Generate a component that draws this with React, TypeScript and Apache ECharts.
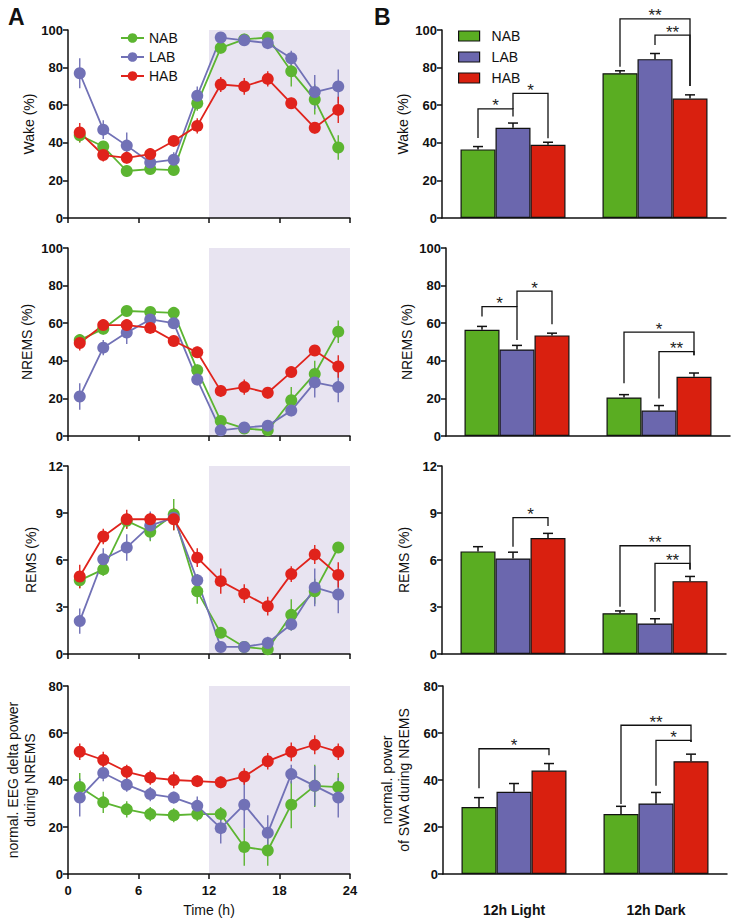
import React, { useEffect, useRef } from 'react';
import * as echarts from 'echarts';

const HOURS = [1, 3, 5, 7, 9, 11, 13, 15, 17, 19, 21, 23];
const GROUPS = ['NAB', 'LAB', 'HAB'];
const PERIODS = ['12h Light', '12h Dark'];

// Wake (%)
const WAKE_NAB = [44, 38, 25, 26, 25.5, 61, 90.5, 95, 96, 78, 63, 37.5];
const WAKE_NAB_ERR = [4, 3, 3, 2, 2, 4, 3, 3, 2, 8, 8, 6.5];
const WAKE_LAB = [77, 47, 38.5, 29.5, 31, 65, 96, 94.5, 93, 85, 67, 70];
const WAKE_LAB_ERR = [8, 5, 7, 3, 4, 5, 1.5, 2, 3, 4, 9, 9];
const WAKE_HAB = [45.5, 33.5, 32, 34, 41, 49, 71, 70, 74, 61, 48, 57.5];
const WAKE_HAB_ERR = [5, 3.5, 3, 3, 2, 4, 4, 4.5, 4, 3, 3, 7];

// NREMS (%)
const NREMS_NAB = [51, 57, 66.5, 66, 65.5, 35, 8, 4, 3, 19, 33, 55.5];
const NREMS_NAB_ERR = [3, 3, 2.5, 2, 2, 3, 2, 2, 1.5, 7, 7, 6];
const NREMS_LAB = [21, 47, 55, 62, 60, 30, 3, 4.5, 5.5, 13.5, 28.5, 26];
const NREMS_LAB_ERR = [7, 4, 6, 2, 3, 3, 1, 2, 3, 3, 8, 8];
const NREMS_HAB = [49.5, 59, 59, 57.5, 50.5, 44.5, 24, 26, 23, 34, 45.5, 37];
const NREMS_HAB_ERR = [4, 3, 2, 2, 2, 3, 3, 4, 3, 2, 2, 6];

// REMS (%)
const REMS_NAB = [4.7, 5.4, 8.5, 7.8, 8.9, 4.0, 1.35, 0.45, 0.3, 2.5, 4.0, 6.8];
const REMS_NAB_ERR = [0.5, 0.4, 0.5, 0.6, 1.0, 0.8, 0.2, 0.15, 0.2, 1.0, 0.8, 0.3];
const REMS_LAB = [2.1, 6.05, 6.8, 8.2, 8.7, 4.7, 0.45, 0.45, 0.7, 1.9, 4.25, 3.8];
const REMS_LAB_ERR = [0.8, 0.7, 0.85, 0.9, 0.3, 0.4, 0.1, 0.2, 0.4, 0.4, 1.2, 1.2];
const REMS_HAB = [4.95, 7.5, 8.6, 8.6, 8.6, 6.15, 4.65, 3.85, 3.05, 5.1, 6.35, 5.05];
const REMS_HAB_ERR = [0.75, 0.5, 0.6, 0.4, 0.7, 0.6, 0.8, 0.6, 0.6, 0.5, 0.6, 0.8];

// normal. EEG delta power during NREMS
const DELTA_NAB = [37, 30.5, 27.5, 25.5, 25, 25.5, 25.5, 11.5, 10, 29.5, 37.5, 37];
const DELTA_NAB_ERR = [6, 4.5, 3.5, 3, 3, 3, 3, 8, 6.5, 10, 9, 6];
const DELTA_LAB = [32.5, 43, 38, 34, 32.5, 29, 19.5, 29.5, 17.5, 42.5, 37.5, 32.5];
const DELTA_LAB_ERR = [8, 3.5, 3, 3, 2.5, 4, 6.5, 10, 7.5, 4, 8.5, 8.5];
const DELTA_HAB = [52, 48.5, 43.5, 41, 40, 39.5, 39, 41.5, 48, 52, 55, 52];
const DELTA_HAB_ERR = [3.5, 3.5, 3, 3, 3.5, 2.5, 2.5, 3.5, 3.5, 4, 4, 3.5];

// Bars: [Light, Dark] per group
const WAKE_BARS = { NAB: [36.5, 77], LAB: [48, 84.5], HAB: [39, 63.5] };
const WAKE_BARS_ERR = { NAB: [1.5, 1.3], LAB: [2.5, 3], HAB: [1.3, 2] };
const NREMS_BARS = { NAB: [56.5, 20.5], LAB: [46, 13.5], HAB: [53.5, 31.5] };
const NREMS_BARS_ERR = { NAB: [1.8, 1.5], LAB: [2.2, 2.7], HAB: [1.2, 2] };
const REMS_BARS = { NAB: [6.55, 2.6], LAB: [6.1, 1.95], HAB: [7.4, 4.65] };
const REMS_BARS_ERR = { NAB: [0.3, 0.15], LAB: [0.4, 0.3], HAB: [0.3, 0.3] };
const SWA_BARS = { NAB: [28.5, 25.5], LAB: [35, 30], HAB: [44, 48] };
const SWA_BARS_ERR = { NAB: [4, 3.3], LAB: [3.5, 4.7], HAB: [3, 3] };

// Significance brackets: [period, groupA, groupB, topValue, legA bottom, legB bottom]
const WAKE_BRACKETS = [[0, 0, 1, 58, 42.5, 54], [0, 1, 2, 66.3, 58, 42.4], [1, 0, 2, 105.9, 80.5, 70.2], [1, 1, 2, 97.3, 92, 70.2]];
const WAKE_STARS = ['*', '*', '**', '**'];
const NREMS_BRACKETS = [[0, 0, 1, 68.8, 63.5, 51], [0, 1, 2, 77.1, 68.8, 59.4], [1, 0, 2, 55.2, 28, 43], [1, 1, 2, 44.9, 20, 43]];
const NREMS_STARS = ['*', '*', '*', '**'];
const REMS_BRACKETS = [[0, 1, 2, 8.7, 6.85, 8.17], [1, 0, 2, 6.91, 3.02, 5.4], [1, 1, 2, 5.79, 2.7, 5.4]];
const REMS_STARS = ['*', '**', '**'];
const SWA_BRACKETS = [[0, 0, 2, 53.3, 36.5, 50.5], [1, 0, 2, 63.3, 29.8, 56.2], [1, 1, 2, 56.9, 37.6, 56.2]];
const SWA_STARS = ['*', '**', '*'];

const Y_MAX = [100, 100, 12, 80];
const Y_INTERVAL = [20, 20, 3, 20];
const LEFT_NAMES = ['Wake (%)', 'NREMS (%)', 'REMS (%)', 'normal. EEG delta power\nduring NREMS'];
const RIGHT_NAMES = ['Wake (%)', 'NREMS (%)', 'REMS (%)', 'normal. power\nof SWA during NREMS'];

const LINE_COLORS: Record<string, string> = { NAB: '#5cb531', LAB: '#7171b6', HAB: '#e0231c' };
const BAR_COLORS: Record<string, string> = { NAB: '#5aad22', LAB: '#6b67ae', HAB: '#d9200f' };

const ROW_TOPS = [30, 248, 466, 686];
const ROW_H = 188;
const RIGHT_LEFTS = [442, 446, 442, 443];
const LEFT_GAPS = [30, 33, 29, 30];
const RIGHT_GAPS = [30, 30, 30, 31];
const BAR_W = 35;
const FONT = 'Arial, Liberation Sans, Helvetica, sans-serif';
const INK = '#111';

export default function App() {
  const ref = useRef<HTMLDivElement>(null);
  useEffect(() => {
    if (!ref.current) return;
    const chart = echarts.init(ref.current, undefined, { renderer: 'svg' });

    const lineRows = [
      { NAB: [WAKE_NAB, WAKE_NAB_ERR], LAB: [WAKE_LAB, WAKE_LAB_ERR], HAB: [WAKE_HAB, WAKE_HAB_ERR] },
      { NAB: [NREMS_NAB, NREMS_NAB_ERR], LAB: [NREMS_LAB, NREMS_LAB_ERR], HAB: [NREMS_HAB, NREMS_HAB_ERR] },
      { NAB: [REMS_NAB, REMS_NAB_ERR], LAB: [REMS_LAB, REMS_LAB_ERR], HAB: [REMS_HAB, REMS_HAB_ERR] },
      { NAB: [DELTA_NAB, DELTA_NAB_ERR], LAB: [DELTA_LAB, DELTA_LAB_ERR], HAB: [DELTA_HAB, DELTA_HAB_ERR] },
    ];
    const barRows = [
      [WAKE_BARS, WAKE_BARS_ERR, WAKE_BRACKETS, WAKE_STARS],
      [NREMS_BARS, NREMS_BARS_ERR, NREMS_BRACKETS, NREMS_STARS],
      [REMS_BARS, REMS_BARS_ERR, REMS_BRACKETS, REMS_STARS],
      [SWA_BARS, SWA_BARS_ERR, SWA_BRACKETS, SWA_STARS],
    ] as any[];

    const grid: any[] = [];
    const xAxis: any[] = [];
    const yAxis: any[] = [];
    const series: any[] = [];

    const axisLine = { show: true, lineStyle: { color: INK, width: 1.5 } };
    const tickLabel = { color: INK, fontWeight: 'bold', fontSize: 13, fontFamily: FONT };

    for (let r = 0; r < 4; r++) {
      grid.push({ left: 68, width: 282, top: ROW_TOPS[r], height: ROW_H });
      xAxis.push({
        type: 'value', gridIndex: r, min: 0, max: 24, interval: 6,
        axisLine, axisTick: { show: true, length: 5, lineStyle: { color: INK, width: 1.5 } },
        axisLabel: { ...tickLabel, show: r === 3, margin: 10 },
        splitLine: { show: false },
        name: r === 3 ? 'Time (h)' : '', nameLocation: 'middle', nameGap: 29,
        nameTextStyle: { color: INK, fontSize: 14, fontFamily: FONT },
      });
      yAxis.push({
        type: 'value', gridIndex: r, min: 0, max: Y_MAX[r], interval: Y_INTERVAL[r],
        axisLine, axisTick: { show: true, length: 5, lineStyle: { color: INK, width: 1.5 } },
        axisLabel: { ...tickLabel, margin: 5 },
        splitLine: { show: false },
        name: LEFT_NAMES[r], nameLocation: 'middle', nameGap: LEFT_GAPS[r],
        nameTextStyle: { color: INK, fontSize: 14, fontFamily: FONT, lineHeight: 17 },
      });
    }
    for (let r = 0; r < 4; r++) {
      grid.push({ left: RIGHT_LEFTS[r], width: 284, top: ROW_TOPS[r], height: ROW_H });
      xAxis.push({
        type: 'category', gridIndex: 4 + r, data: PERIODS,
        axisLine, axisTick: { show: false },
        axisLabel: { ...tickLabel, fontSize: 14, show: r === 3, margin: 29 },
      });
      yAxis.push({
        type: 'value', gridIndex: 4 + r, min: 0, max: Y_MAX[r], interval: Y_INTERVAL[r],
        axisLine, axisTick: { show: true, length: 5, lineStyle: { color: INK, width: 1.5 } },
        axisLabel: { ...tickLabel, margin: 5 },
        splitLine: { show: false },
        name: RIGHT_NAMES[r], nameLocation: 'middle', nameGap: RIGHT_GAPS[r],
        nameTextStyle: { color: INK, fontSize: 14, fontFamily: FONT, lineHeight: 17 },
      });
    }

    for (let r = 0; r < 4; r++) {
      const row: any = lineRows[r];
      GROUPS.forEach((g, gi) => {
        const [vals, errs] = row[g];
        const color = LINE_COLORS[g];
        series.push({
          name: g + ' SEM', type: 'custom', xAxisIndex: r, yAxisIndex: r, z: 2,
          data: HOURS.map((h, i) => [h, vals[i] - errs[i], vals[i] + errs[i]]),
          renderItem: (params: any, api: any) => {
            const p1 = api.coord([api.value(0), api.value(1)]);
            const p2 = api.coord([api.value(0), api.value(2)]);
            return { type: 'line', shape: { x1: p1[0], y1: p1[1], x2: p2[0], y2: p2[1] }, style: { stroke: color, lineWidth: 1.4 } };
          },
          silent: true,
        });
        const s: any = {
          name: g, type: 'line', xAxisIndex: r, yAxisIndex: r, z: 2,
          data: HOURS.map((h, i) => [h, vals[i]]),
          symbol: 'circle', symbolSize: 12, showSymbol: true,
          lineStyle: { color, width: 1.8 }, itemStyle: { color },
          emphasis: { disabled: true },
        };
        if (gi === 0) {
          s.markArea = {
            silent: true, z: 0,
            itemStyle: { color: '#e8e4f1' },
            data: [[{ xAxis: 12 }, { xAxis: 24 }]],
          };
        }
        series.push(s);
      });
    }

    for (let r = 0; r < 4; r++) {
      const [bars, barErr, brackets, stars] = barRows[r];
      GROUPS.forEach((g) => {
        series.push({
          name: g + ' bar', type: 'bar', xAxisIndex: 4 + r, yAxisIndex: 4 + r,
          data: bars[g], barWidth: BAR_W, barGap: '0%',
          itemStyle: { color: BAR_COLORS[g], borderColor: INK, borderWidth: 1.2 },
          emphasis: { disabled: true },
        });
      });
      const errData: any[] = [];
      GROUPS.forEach((g, gi) => {
        PERIODS.forEach((_, pi) => errData.push([pi, bars[g][pi], barErr[g][pi], gi]));
      });
      series.push({
        name: 'bar SEM', type: 'custom', xAxisIndex: 4 + r, yAxisIndex: 4 + r, z: 3, silent: true,
        data: errData,
        renderItem: (params: any, api: any) => {
          const c = api.value(0), v = api.value(1), e = api.value(2), b = api.value(3);
          const base = api.coord([c, v]);
          const top = api.coord([c, v + e]);
          const x = base[0] + (b - 1) * BAR_W;
          return {
            type: 'group', children: [
              { type: 'line', shape: { x1: x, y1: base[1], x2: x, y2: top[1] }, style: { stroke: INK, lineWidth: 1.5 } },
              { type: 'line', shape: { x1: x - 5, y1: top[1], x2: x + 5, y2: top[1] }, style: { stroke: INK, lineWidth: 1.5 } },
            ],
          };
        },
      });
      series.push({
        name: 'significance', type: 'custom', xAxisIndex: 4 + r, yAxisIndex: 4 + r, z: 3, silent: true, clip: false,
        data: brackets,
        renderItem: (params: any, api: any) => {
          const c = api.value(0), a = api.value(1), b = api.value(2);
          const t = api.coord([c, api.value(3)]);
          const ya = api.coord([c, api.value(4)])[1];
          const yb = api.coord([c, api.value(5)])[1];
          const xa = t[0] + (a - 1) * BAR_W;
          const xb = t[0] + (b - 1) * BAR_W;
          return {
            type: 'group', children: [
              { type: 'polyline', shape: { points: [[xa, ya], [xa, t[1]], [xb, t[1]], [xb, yb]] }, style: { stroke: INK, lineWidth: 1.3, fill: 'none' } },
              { type: 'text', x: (xa + xb) / 2, y: t[1] - 3, style: { text: stars[params.dataIndex], fill: '#222', fontSize: 17, fontFamily: FONT, align: 'center', verticalAlign: 'middle' } },
            ],
          };
        },
      });
    }

    const legendRects = GROUPS.map((g, i) => ({
      type: 'group', left: 458, top: 29 + i * 21,
      children: [
        { type: 'rect', shape: { x: 0, y: 0, width: 21, height: 10 }, style: { fill: BAR_COLORS[g], stroke: INK, lineWidth: 1.2 } },
        { type: 'text', x: 33, y: 5, style: { text: g, fill: INK, fontSize: 14, fontFamily: FONT, verticalAlign: 'middle' } },
      ],
    }));

    chart.setOption({
      animation: false,
      textStyle: { fontFamily: FONT },
      grid, xAxis, yAxis, series,
      legend: {
        data: GROUPS, orient: 'vertical', left: 115, top: 26,
        itemWidth: 23, itemHeight: 12, itemGap: 5,
        textStyle: { color: INK, fontSize: 14, fontFamily: FONT },
        selectedMode: false,
      },
      graphic: [
        { type: 'text', left: 8, top: 5, style: { text: 'A', fill: INK, fontSize: 23, fontWeight: 'bold', fontFamily: FONT } },
        { type: 'text', left: 374, top: 5, style: { text: 'B', fill: INK, fontSize: 23, fontWeight: 'bold', fontFamily: FONT } },
        ...legendRects,
      ],
    });
    return () => chart.dispose();
  }, []);
  return <div ref={ref} style={{ position: 'absolute', left: 0, top: 0, width: 738, height: 920, background: '#fff' }} />;
}
